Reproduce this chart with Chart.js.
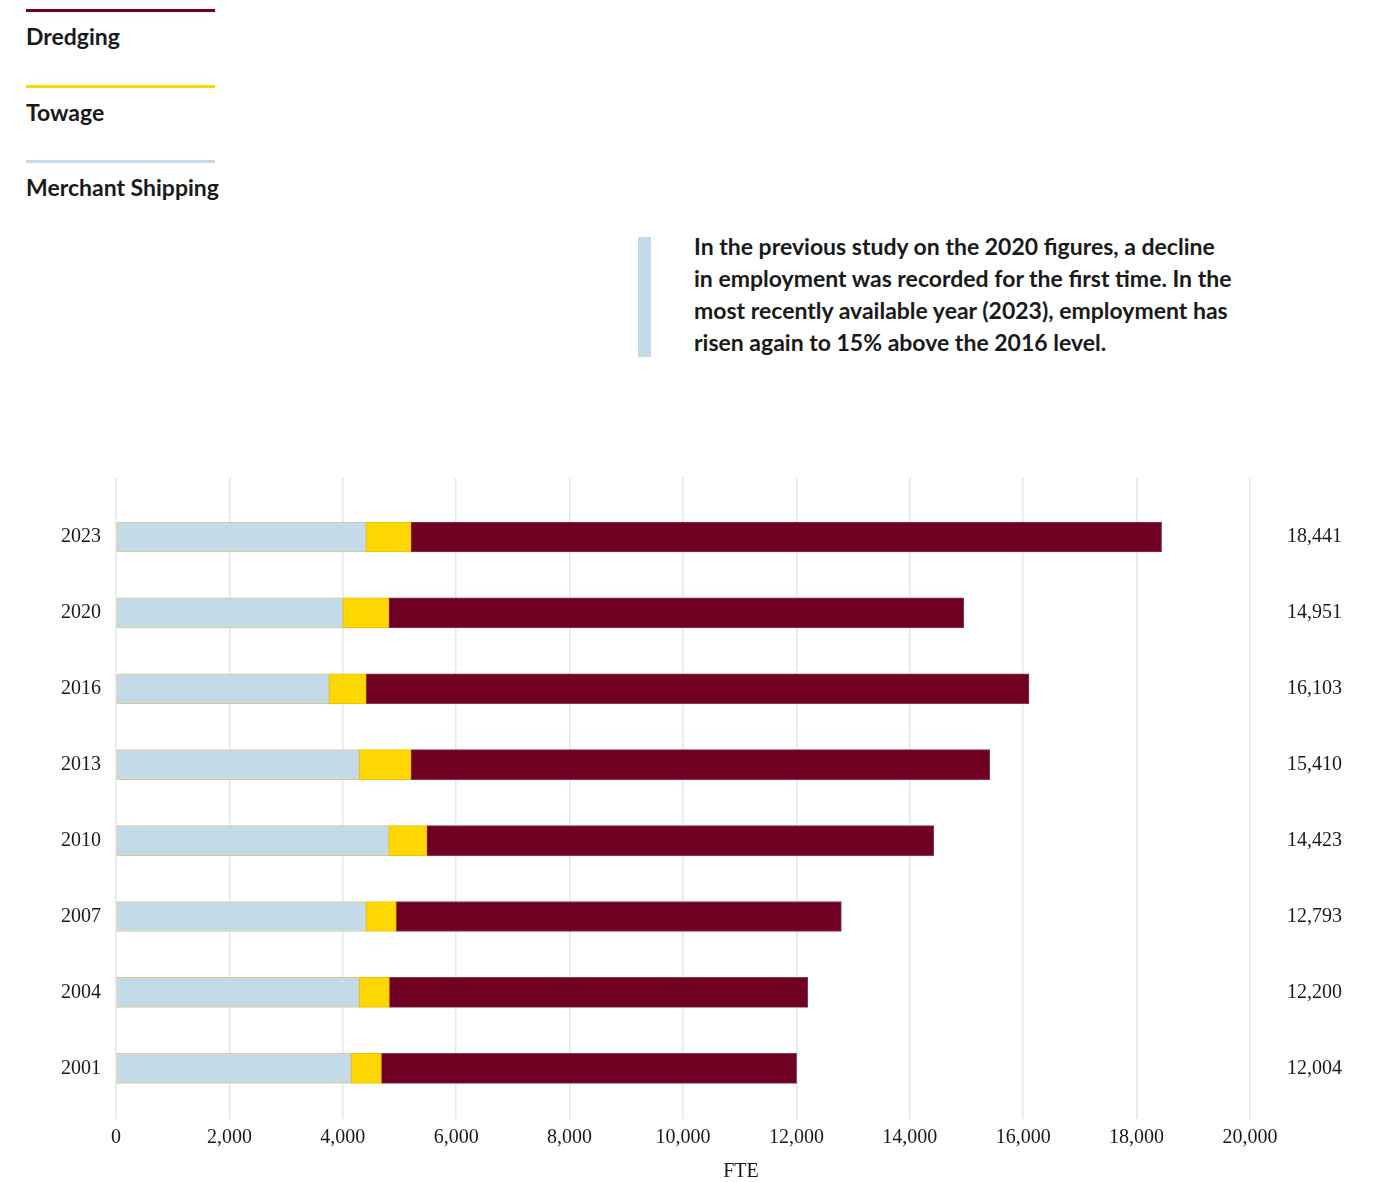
<!DOCTYPE html>
<html>
<head>
<meta charset="utf-8">
<title>Maritime employment (FTE)</title>
<script src="https://cdn.jsdelivr.net/npm/chart.js@4/dist/chart.umd.min.js"></script>
<style>
    body {
        margin: 0;
        background: #ffffff;
        width: 1383px;
        height: 1182px;
        position: relative;
        overflow: hidden;
        font-family: Lato, "Open Sans", sans-serif;
        color: #1a1a1a;
    }
    .legend-item {
        position: absolute;
        left: 26px;
        width: 189px;
        font-size: 23px;
        font-weight: 700;
        white-space: nowrap;
    }
    .legend-item .bar {
        height: 3px;
        margin-bottom: 10px;
    }
    .note {
        position: absolute;
        left: 638px;
        top: 237px;
        width: 660px;
    }
    .note .stripe {
        position: absolute;
        left: 0;
        top: 0;
        width: 13px;
        height: 120px;
        background: #c3dbe8;
    }
    .note p {
        margin: 0 0 0 56px;
        font-size: 23px;
        font-weight: 700;
        line-height: 32px;
        position: relative;
        top: -7px;
    }
    .axis-title {
        position: absolute;
        left: 641px;
        width: 200px;
        top: 1158px;
        text-align: center;
        font-family: 'Liberation Serif', 'DejaVu Serif', serif;
        font-size: 20px;
        line-height: 24px;
    }
    #chartContainer {
        position: absolute;
        left: 0;
        top: 460px;
        width: 1383px;
        height: 722px;
    }
</style>
</head>
<body>

<div class="legend-item" style="top: 9px;"><div class="bar" style="background:#6f0022"></div>Dredging</div>
<div class="legend-item" style="top: 85px;"><div class="bar" style="background:#fdd800"></div>Towage</div>
<div class="legend-item" style="top: 160px;"><div class="bar" style="background:#c3dbe8"></div>Merchant Shipping</div>

<div class="note">
    <div class="stripe"></div>
    <p>In the previous study on the 2020 figures, a decline<br>in employment was recorded for the first time. In the<br>most recently available year (2023), employment has<br>risen again to 15% above the 2016 level.</p>
</div>

<div id="chartContainer"><canvas id="fteChart"></canvas></div>
<div class="axis-title">FTE</div>

<script>
// years from top to bottom
const years = ['2023', '2020', '2016', '2013', '2010', '2007', '2004', '2001'];
const merchantShipping = [4410, 4000, 3760, 4290, 4810, 4410, 4290, 4150];
const towage = [790, 810, 650, 910, 670, 530, 530, 530];
const dredging = [13241, 10141, 11693, 10210, 8943, 7853, 7380, 7324];
const totals = [18441, 14951, 16103, 15410, 14423, 12793, 12200, 12004];
const xTicks = [0, 2000, 4000, 6000, 8000, 10000, 12000, 14000, 16000, 18000, 20000];

const serifFont = "'Liberation Serif', 'DejaVu Serif', serif";

// bars sit on a numeric row axis so the grid can run past the first and last row
function rowPoints(values) {
    return values.map((v, i) => ({ x: v, y: i }));
}

function rowTicks(scale) {
    scale.ticks = years.map((_, i) => ({ value: i }));
}

const rowMin = -0.777;
const rowMax = 7.668;

function rowAxis(position, width, padding, labelFor) {
    return {
        type: 'linear',
        position: position,
        stacked: true,
        reverse: true,
        offset: false,
        min: rowMin,
        max: rowMax,
        afterBuildTicks: rowTicks,
        afterFit: scale => {
            scale.width = width;
            // labels never reach the ends, no extra room needed above/below
            scale.paddingTop = 0;
            scale.paddingBottom = 0;
        },
        grid: { display: false, drawTicks: false, offset: false },
        border: { display: false },
        ticks: {
            padding: padding,
            color: '#1a1a1a',
            font: { family: serifFont, size: 20 },
            callback: labelFor
        }
    };
}

function createChart() {
    const ctx = document.getElementById('fteChart').getContext('2d');
    return new Chart(ctx, {
        type: 'bar',
        data: {
            datasets: [{
                label: 'Merchant Shipping',
                data: rowPoints(merchantShipping),
                backgroundColor: '#c3dbe8',
                borderColor: 'rgba(214, 196, 130, 0.9)',
                borderWidth: 1,
                borderSkipped: false,
                barThickness: 30
            }, {
                label: 'Towage',
                data: rowPoints(towage),
                backgroundColor: '#fdd800',
                borderColor: '#eec200',
                borderWidth: 1,
                borderSkipped: false,
                barThickness: 30
            }, {
                label: 'Dredging',
                data: rowPoints(dredging),
                backgroundColor: '#6f0022',
                borderColor: '#843a55',
                borderWidth: 1,
                borderSkipped: false,
                barThickness: 30
            }]
        },
        options: {
            indexAxis: 'y',
            responsive: true,
            maintainAspectRatio: false,
            animation: false,
            layout: {
                padding: { top: 18, left: 0, right: 0, bottom: 0 }
            },
            scales: {
                x: {
                    type: 'linear',
                    stacked: true,
                    min: 0,
                    max: 20000,
                    afterBuildTicks: scale => {
                        scale.ticks = xTicks.map(v => ({ value: v }));
                    },
                    afterFit: scale => { scale.height = 63; },
                    grid: {
                        color: '#e1e6ef',
                        lineWidth: 1.5,
                        drawTicks: false
                    },
                    border: { display: false },
                    ticks: {
                        padding: 7,
                        color: '#1a1a1a',
                        font: { family: serifFont, size: 20 },
                        callback: value => value.toLocaleString('en-US')
                    }
                },
                y: rowAxis('left', 116, 15, value => years[value]),
                yTotal: rowAxis('right', 133, 37, value => totals[value].toLocaleString('en-US'))
            },
            plugins: {
                legend: { display: false },
                tooltip: { enabled: false }
            }
        }
    });
}

createChart();
</script>
</body>
</html>
